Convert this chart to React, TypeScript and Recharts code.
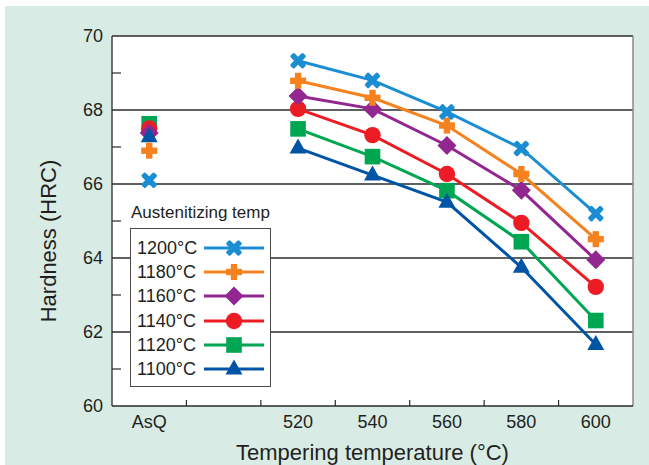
import React from 'react';
import { LineChart, Line, XAxis, YAxis, CartesianGrid, ReferenceLine, Legend, Label } from 'recharts';

const categories = ['AsQ', '', '520', '540', '560', '580', '600'];
const hardness1200 = [66.1, null, 69.33, 68.8, 67.95, 66.96, 65.2];
const hardness1180 = [66.9, null, 68.79, 68.33, 67.58, 66.27, 64.51];
const hardness1160 = [67.38, null, 68.38, 68.03, 67.04, 65.83, 63.95];
const hardness1140 = [67.5, null, 68.03, 67.32, 66.27, 64.95, 63.22];
const hardness1120 = [67.63, null, 67.49, 66.74, 65.82, 64.44, 62.31];
const hardness1100 = [67.28, null, 66.97, 66.24, 65.51, 63.75, 61.66];
const yTicks = [60, 61, 62, 63, 64, 65, 66, 67, 68, 69, 70];
const gridValues = [62, 64, 66, 68];
const legendTitle = 'Austenitizing temp';
const xTitle = 'Tempering temperature (°C)';
const yTitle = 'Hardness (HRC)';

const FONT = '"Liberation Sans", Arial, Helvetica, sans-serif';
const TEXT = '#231f20';
const GREEN_BG = '#d8ece5';
const AXIS = '#2b2b2b';

type Shape = 'cross' | 'plus' | 'diamond' | 'circle' | 'square' | 'triangle';
interface Series { key: string; name: string; color: string; shape: Shape; values: (number | null)[] }

const series: Series[] = [
  { key: 't1200', name: '1200°C', color: '#1b8dd3', shape: 'cross', values: hardness1200 },
  { key: 't1180', name: '1180°C', color: '#f5821f', shape: 'plus', values: hardness1180 },
  { key: 't1160', name: '1160°C', color: '#92278f', shape: 'diamond', values: hardness1160 },
  { key: 't1140', name: '1140°C', color: '#ed1c24', shape: 'circle', values: hardness1140 },
  { key: 't1120', name: '1120°C', color: '#00a651', shape: 'square', values: hardness1120 },
  { key: 't1100', name: '1100°C', color: '#0054a6', shape: 'triangle', values: hardness1100 },
];
const drawOrder = ['t1120', 't1140', 't1160', 't1100', 't1180', 't1200'];

const data = categories.map((c, i) => {
  const row: Record<string, any> = { x: i + 0.5, cat: c };
  series.forEach((s) => { row[s.key] = s.values[i]; });
  return row;
});

const xTicks: number[] = [];
categories.forEach((_, i) => { if (i > 0) xTicks.push(i); xTicks.push(i + 0.5); });

function marker(shape: Shape, color: string, cx: number, cy: number, k?: any) {
  switch (shape) {
    case 'cross':
      return (
        <g key={k}>
          <rect x={cx - 9} y={cy - 2.8} width={18} height={5.6} rx={1.5} fill={color} transform={`rotate(45, ${cx}, ${cy})`} />
          <rect x={cx - 9} y={cy - 2.8} width={18} height={5.6} rx={1.5} fill={color} transform={`rotate(-45, ${cx}, ${cy})`} />
        </g>
      );
    case 'plus':
      return (
        <g key={k}>
          <rect x={cx - 8} y={cy - 3.2} width={16} height={6.4} fill={color} />
          <rect x={cx - 3.2} y={cy - 8} width={6.4} height={16} fill={color} />
        </g>
      );
    case 'diamond':
      return <polygon key={k} points={`${cx},${cy - 9.5} ${cx + 9.5},${cy} ${cx},${cy + 9.5} ${cx - 9.5},${cy}`} fill={color} />;
    case 'circle':
      return <circle key={k} cx={cx} cy={cy} r={8.2} fill={color} />;
    case 'square':
      return <rect key={k} x={cx - 7.8} y={cy - 7.8} width={15.6} height={15.6} fill={color} />;
    case 'triangle':
    default:
      return <polygon key={k} points={`${cx},${cy - 9.5} ${cx + 8.5},${cy + 5.5} ${cx - 8.5},${cy + 5.5}`} fill={color} />;
  }
}

const makeDot = (s: Series) => (props: any) => {
  const { cx, cy, index } = props;
  const k = `${s.key}-${index}`;
  if (cx == null || cy == null || props.value == null || props.payload?.[s.key] == null) return <g key={k} />;
  return marker(s.shape, s.color, cx, cy, k);
};

const YTick = (props: any) => {
  const { x, y, payload } = props;
  const v = payload.value;
  if (v % 2 === 0) {
    return (
      <text x={x - 9} y={y} dy="0.36em" textAnchor="end" fontSize={18} fontFamily={FONT} fill={TEXT}>{v}</text>
    );
  }
  return <line x1={x} x2={x + 9} y1={y} y2={y} stroke={AXIS} strokeWidth={1.2} />;
};

const XTick = (props: any) => {
  const { x, y, payload } = props;
  const v = payload.value;
  if (Number.isInteger(v)) {
    if (v <= 0 || v >= categories.length) return <g />;
    return <line x1={x} x2={x} y1={y} y2={y - 6} stroke={AXIS} strokeWidth={1.2} />;
  }
  const label = categories[Math.floor(v)];
  return (
    <text x={x} y={y + 22} textAnchor="middle" fontSize={18} fontFamily={FONT} fill={TEXT}>{label}</text>
  );
};

const renderLegend = () => (
  <div style={{ fontFamily: FONT, color: TEXT, textAlign: 'left' }}>
    <div style={{ fontSize: 17, lineHeight: '20px', whiteSpace: 'nowrap', marginLeft: 1 }}>{legendTitle}</div>
    <div
      style={{
        marginTop: 5, width: 141, height: 159, boxSizing: 'border-box', border: '1px solid #4a4a4a',
        background: '#fff', paddingTop: 7, paddingLeft: 6,
      }}
    >
      {series.map((s) => (
        <div key={s.key} style={{ display: 'flex', alignItems: 'center', height: 24.2 }}>
          <span style={{ fontSize: 18, width: 67, whiteSpace: 'nowrap', lineHeight: '20px' }}>{s.name}</span>
          <svg width={62} height={24} style={{ display: 'block' }}>
            <line x1={0} x2={60} y1={12} y2={12} stroke={s.color} strokeWidth={3} />
            {marker(s.shape, s.color, 30, 12)}
          </svg>
        </div>
      ))}
    </div>
  </div>
);

export default function App() {
  return (
    <div style={{ position: 'absolute', left: 0, top: 0, width: 649, height: 465, background: '#fff', overflow: 'hidden' }}>
      <div style={{ position: 'absolute', left: 5, top: 6, width: 644, height: 459, background: GREEN_BG }} />
      <div style={{ position: 'absolute', left: 0, top: 0 }}>
        <LineChart width={649} height={465} data={data} margin={{ top: 36, right: 16, bottom: 0, left: 0 }}>
          <CartesianGrid horizontal={false} vertical={false} fill="#ffffff" stroke="none" />
          {gridValues.map((g) => (
            <ReferenceLine key={g} y={g} stroke={AXIS} strokeWidth={1.3} />
          ))}
          <ReferenceLine y={70} stroke={AXIS} strokeWidth={1.3} />
          <ReferenceLine x={categories.length} stroke="#8a8a8a" strokeWidth={1.5} />
          <XAxis
            dataKey="x"
            type="number"
            domain={[0, categories.length]}
            ticks={xTicks}
            interval={0}
            tick={<XTick />}
            tickLine={false}
            tickSize={0}
            tickMargin={0}
            height={59}
            axisLine={{ stroke: AXIS, strokeWidth: 1.3 }}
            allowDecimals
          >
            <Label
              content={(p: any) => {
                const vb = p.viewBox || {};
                return (
                  <text x={vb.x + vb.width / 2} y={460} textAnchor="middle" fontSize={22} fontFamily={FONT} fill={TEXT}>{xTitle}</text>
                );
              }}
            />
          </XAxis>
          <YAxis
            type="number"
            domain={[60, 70]}
            ticks={yTicks}
            interval={0}
            tick={<YTick />}
            tickLine={false}
            tickSize={0}
            tickMargin={0}
            width={112}
            axisLine={{ stroke: AXIS, strokeWidth: 1.3 }}
          >
            <Label
              content={(p: any) => {
                const vb = p.viewBox || {};
                const cx = vb.x + 48;
                const cy = vb.y + vb.height / 2 + 20;
                return (
                  <text x={cx} y={cy} transform={`rotate(-90, ${cx}, ${cy})`} textAnchor="middle" dominantBaseline="central" fontSize={22} fontFamily={FONT} fill={TEXT}>{yTitle}</text>
                );
              }}
            />
          </YAxis>
          {drawOrder.map((k) => {
            const s = series.find((ss) => ss.key === k)!;
            return (
              <Line
                key={s.key}
                dataKey={s.key}
                name={s.name}
                stroke={s.color}
                strokeWidth={3}
                dot={makeDot(s)}
                activeDot={false}
                isAnimationActive={false}
                connectNulls={false}
              />
            );
          })}
          <Legend
            layout="horizontal"
            verticalAlign="middle"
            align="center"
            content={renderLegend}
            wrapperStyle={{ left: 130, top: 203, width: 160, height: 190 }}
          />
        </LineChart>
      </div>
    </div>
  );
}
